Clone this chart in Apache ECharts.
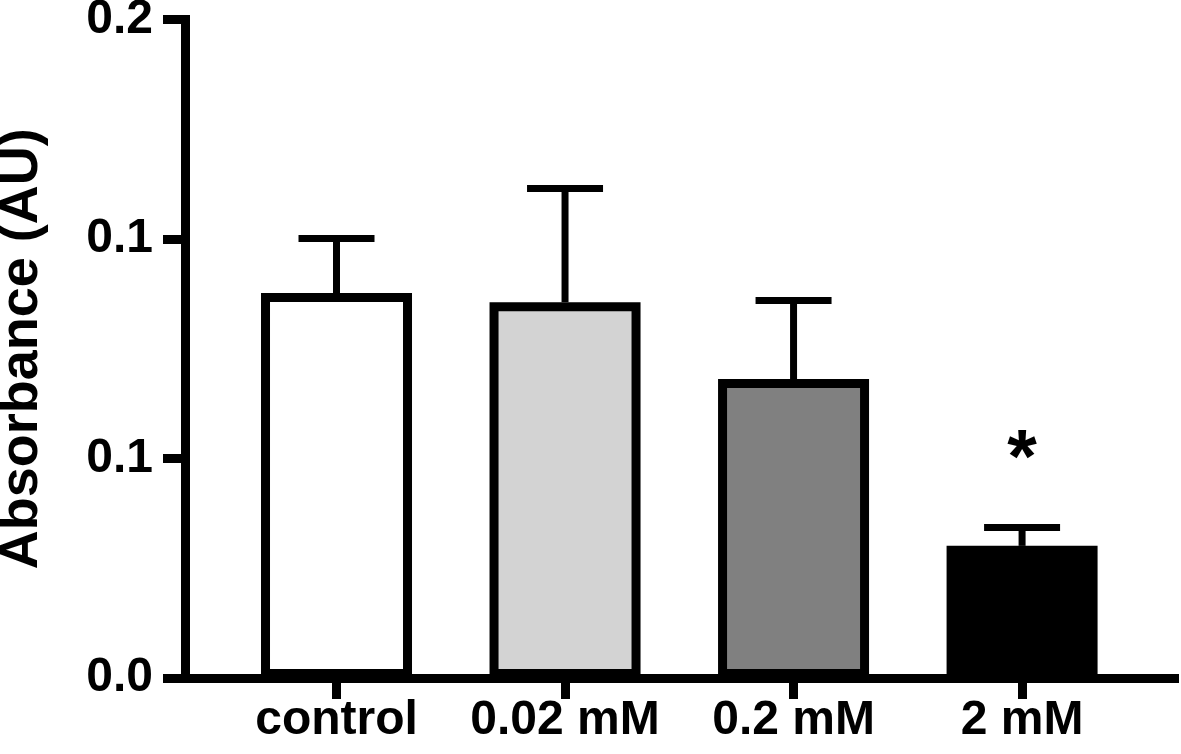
<!DOCTYPE html>
<html>
<head>
<meta charset="utf-8">
<script src="https://cdn.jsdelivr.net/npm/echarts@6/dist/echarts.min.js"></script>
<style>
html,body{margin:0;padding:0;background:#fff;}
#chart{width:1181px;height:754px;}
</style>
</head>
<body>
<div id="chart"></div>
<script>
const categories = ['control', '0.02 mM', '0.2 mM', '2 mM'];
const means = [0.0877, 0.0856, 0.0681, 0.0301];
const errors = [0.0124, 0.0259, 0.0179, 0.0042];
const fills = ['#ffffff', '#d3d3d3', '#808080', '#000000'];
const sigMarks = ['', '', '', '*'];
const yTickLabels = ['0.0', '0.1', '0.1', '0.2'];
const catPositions = [0, 1, 2, 3];

const FONT = '"Liberation Sans", Arial, Helvetica, sans-serif';
const chart = echarts.init(document.getElementById('chart'), null, {renderer: 'canvas'});

const barData = categories.map((c, i) => ({
  value: [catPositions[i], means[i]],
  itemStyle: {color: fills[i]}
}));
const errData = categories.map((c, i) => [catPositions[i], means[i], errors[i]]);

const option = {
  animation: false,
  backgroundColor: '#ffffff',
  grid: {left: 185, right: 6.5, top: 19.5, bottom: 76, containLabel: false, outerBoundsMode: 'none'},
  xAxis: {
    type: 'value',
    min: -0.663,
    max: 3.667,
    splitLine: {show: false},
    axisLine: {show: true, onZero: false, lineStyle: {color: '#000', width: 9, cap: 'square'}},
    axisTick: {show: true, customValues: catPositions, length: 21, lineStyle: {color: '#000', width: 9}},
    axisLabel: {
      show: true,
      customValues: catPositions,
      formatter: (v) => categories[Math.round(v)],
      color: '#000', fontSize: 48, fontWeight: 'bold', fontFamily: FONT, margin: 18.5
    }
  },
  yAxis: {
    type: 'value',
    min: 0,
    max: 0.15,
    interval: 0.05,
    name: 'Absorbance (AU)',
    nameLocation: 'middle',
    nameGap: 136,
    nameTextStyle: {color: '#000', fontSize: 54, fontWeight: 'bold', fontFamily: FONT},
    splitLine: {show: false},
    axisLine: {show: true, onZero: false, lineStyle: {color: '#000', width: 9, cap: 'square'}},
    axisTick: {show: true, length: 22, lineStyle: {color: '#000', width: 9}},
    axisLabel: {
      show: true,
      formatter: (v, idx) => yTickLabels[idx],
      color: '#000', fontSize: 48, fontWeight: 'bold', fontFamily: FONT, margin: 32
    }
  },
  series: [
    {
      type: 'custom',
      z: 1,
      data: errData,
      encode: {x: 0, y: 1},
      renderItem: (params, api) => {
        const x = api.value(0), m = api.value(1), e = api.value(2);
        const base = api.coord([x, m]);
        const top = api.coord([x, m + e]);
        const children = [
          {type: 'line', shape: {x1: base[0], y1: base[1], x2: top[0], y2: top[1]}, style: {stroke: '#000', lineWidth: 7}},
          {type: 'line', shape: {x1: top[0] - 38, y1: top[1], x2: top[0] + 38, y2: top[1]}, style: {stroke: '#000', lineWidth: 7}}
        ];
        const mark = sigMarks[params.dataIndex];
        if (mark) {
          children.push({
            type: 'text', x: top[0], y: top[1] - 66,
            style: {text: mark, fill: '#000', fontSize: 76, fontWeight: 'bold', fontFamily: FONT, align: 'center', verticalAlign: 'middle'}
          });
        }
        return {type: 'group', children};
      }
    },
    {
      type: 'bar',
      z: 2,
      barWidth: 151,
      data: barData,
      itemStyle: {borderColor: '#000', borderWidth: 9}
    }
  ]
};
chart.setOption(option);
</script>
</body>
</html>
